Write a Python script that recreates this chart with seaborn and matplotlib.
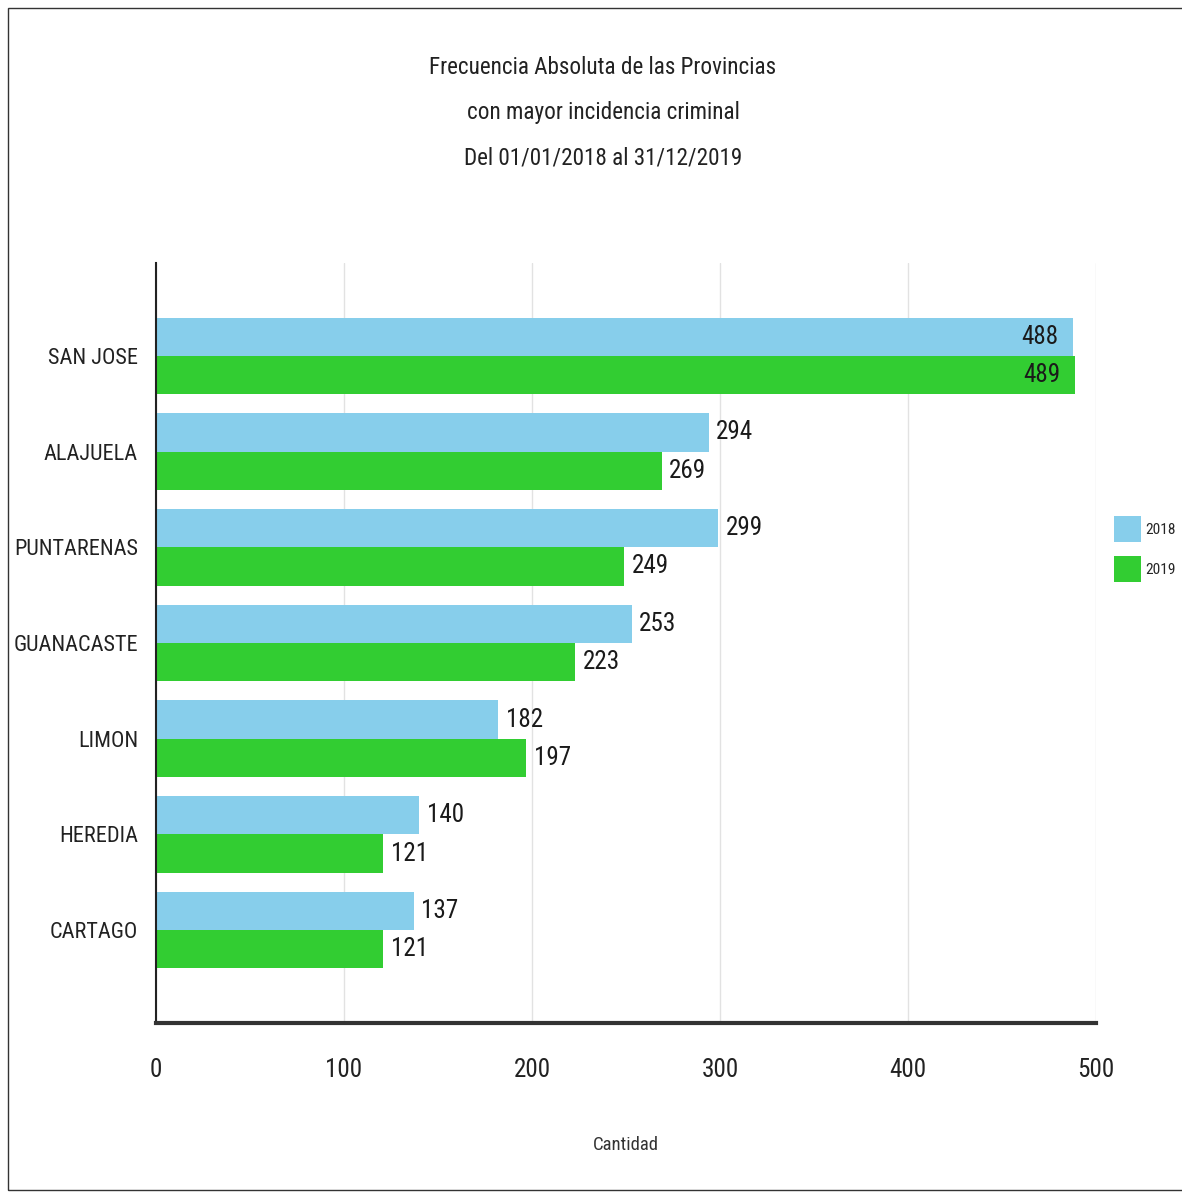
import matplotlib
matplotlib.use("Agg")
import matplotlib.pyplot as plt
import matplotlib.font_manager as fm
from matplotlib.font_manager import FontProperties
from matplotlib.patches import Rectangle
import seaborn as sns
import pandas as pd

provinces = ["SAN JOSE", "ALAJUELA", "PUNTARENAS", "GUANACASTE", "LIMON", "HEREDIA", "CARTAGO"]
years = ["2018", "2019"]
values_2018 = [488, 294, 299, 253, 182, 140, 137]
values_2019 = [489, 269, 249, 223, 197, 121, 121]
x_ticks = [0, 100, 200, 300, 400, 500]
title_lines = ["Frecuencia Absoluta de las Provincias", "con mayor incidencia criminal", "Del 01/01/2018 al 31/12/2019"]
x_label = "Cantidad"

df = pd.DataFrame({
    "Provincia": provinces * 2,
    "Año": [years[0]] * len(provinces) + [years[1]] * len(provinces),
    "Cantidad": values_2018 + values_2019,
})

sns.set_style("white")
plt.rcParams["font.family"] = ["Liberation Sans", "DejaVu Sans"]

# look for a condensed / narrow sans font
def _is_cond(f):
    n = f.name
    st = f.stretch
    if "DejaVu" in n:
        return False
    if "Narrow" in n or "Condensed" in n:
        return True
    if isinstance(st, str) and "condensed" in st:
        return True
    if isinstance(st, int) and st < 500:
        return True
    return False

def _is_regular(f):
    w = f.weight
    return f.style == "normal" and (w in (400, "normal", "regular", "book"))

cands = [f for f in fm.fontManager.ttflist if _is_cond(f) and _is_regular(f)]
prio = ["Liberation Sans Narrow", "Roboto Condensed", "Open Sans", "Noto Sans", "Lato", "Inter"]
def _rank(f):
    for i, p in enumerate(prio):
        if f.name.startswith(p):
            return i
    return 99
cands.sort(key=_rank)
font_path = cands[0].fname if cands else fm.findfont(FontProperties(family="Liberation Sans"))

fig = plt.figure(figsize=(11.82, 11.96), dpi=100)
renderer = fig.canvas.get_renderer()

def fit_size(s, target_px):
    t = fig.text(0, 0, s, fontproperties=FontProperties(fname=font_path, size=10))
    w = t.get_window_extent(renderer=renderer).width
    t.remove()
    return 10 * target_px / w

def fp(size):
    return FontProperties(fname=font_path, size=size)

sz_title = fit_size(title_lines[0], 345)
sz_ytick = fit_size("PUNTARENAS", 124)
sz_num = fit_size("294", 37)
sz_xtick = sz_num
sz_xlabel = fit_size(x_label, 66)
sz_leg = fit_size("2018", 30)
leg_px = sz_leg * 100 / 72

ax = fig.add_axes([156 / 1182, 1 - 1023 / 1196, 940 / 1182, 760 / 1196])

palette = {"2018": "#87CEEB", "2019": "#32CD32"}
sns.barplot(data=df, y="Provincia", x="Cantidad", hue="Año", order=provinces,
            hue_order=years, palette=palette, orient="h", width=0.8,
            saturation=1, ax=ax, legend=True, zorder=2, linewidth=0)

ax.set_xlim(0, 500)
ax.set_ylim(6.97, -0.97)
ax.set_xticks(x_ticks)
ax.set_xticklabels([str(t) for t in x_ticks])
ax.set_yticks([-0.97, 6.97], minor=True)
ax.tick_params(axis="y", which="minor", length=8, width=1.5, color="#222222")
ax.grid(axis="x", color="#e2e2e2", linewidth=1, zorder=0)
ax.set_axisbelow(True)

for s in ["top", "right"]:
    ax.spines[s].set_visible(False)
ax.spines["left"].set_linewidth(1.5)
ax.spines["left"].set_color("#222222")
ax.spines["bottom"].set_linewidth(3)
ax.spines["bottom"].set_color("#333333")

ax.tick_params(axis="y", which="major", length=9, width=1.5, color="#222222",
               labelcolor="#222222", pad=4)
ax.tick_params(axis="x", which="major", length=7, width=1.2, color="#222222",
               labelcolor="#222222", pad=18)
for lab in ax.get_yticklabels():
    lab.set_fontproperties(fp(sz_ytick))
for lab in ax.get_xticklabels():
    lab.set_fontproperties(fp(sz_xtick))
ax.set_ylabel("")
ax.set_xlabel("")
fig.text(626 / 1182, 1 - 1145 / 1196, x_label, ha="center", va="center",
         fontproperties=fp(sz_xlabel), color="#333333")

for cont in ax.containers:
    for bar in cont:
        w = bar.get_width()
        yc = bar.get_y() + bar.get_height() / 2
        if w > 450:
            ax.text(w - 8, yc, f"{int(round(w))}", ha="right", va="center",
                    fontproperties=fp(sz_num), color="#1a1a1a", zorder=3)
        else:
            ax.text(w + 4, yc, f"{int(round(w))}", ha="left", va="center",
                    fontproperties=fp(sz_num), color="#1a1a1a", zorder=3)

leg = ax.legend(loc="center left", bbox_to_anchor=(1114 / 1182, 1 - 549 / 1196),
                bbox_transform=fig.transFigure, frameon=False, prop=fp(sz_leg),
                handlelength=27 / leg_px, handleheight=34 / leg_px,
                handletextpad=4 / leg_px, labelspacing=14 / leg_px,
                borderaxespad=0, borderpad=0)

for y, line in zip([68, 112, 158], title_lines):
    fig.text(603 / 1182, 1 - y / 1196, line, ha="center", va="center",
             fontproperties=fp(sz_title), color="#222222")

fig.patches.append(Rectangle((8 / 1182, 6 / 1196), 1.2, 1 - 14 / 1196,
                             transform=fig.transFigure, fill=False,
                             edgecolor="#333333", linewidth=1))

fig.savefig("out.png", dpi=100)
